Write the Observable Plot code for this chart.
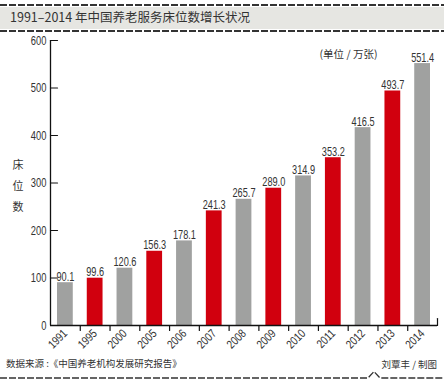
<!DOCTYPE html>
<html>
<head>
<meta charset="utf-8">
<script src="https://cdn.jsdelivr.net/npm/d3@7"></script>
<script src="https://cdn.jsdelivr.net/npm/@observablehq/plot@0.6"></script>
<style>
  html, body { margin: 0; padding: 0; background: #fff; }
  #root { position: relative; width: 444px; height: 385px; overflow: hidden; background: #fff; }
  .dash { position: absolute; left: 0; width: 444px; height: 1.5px;
          background: repeating-linear-gradient(to right, #333 0 7px, transparent 7px 9px); }
  #titlebg { position: absolute; left: 0; top: 7px; width: 444px; height: 22px; background: #e6e6e2; }
  #title { position: absolute; left: 10px; top: 7px; height: 22px; line-height: 22px;
           font: 12.5px "Noto Sans CJK SC", sans-serif; color: #333; white-space: nowrap; }
  #chart { position: absolute; left: 0; top: 32px; }
  #source { position: absolute; left: 6px; top: 356px; font: 9.5px "Noto Sans CJK SC", sans-serif; color: #333; white-space: nowrap; }
  #author { position: absolute; right: 7px; top: 357px; font: 9.5px "Noto Sans CJK SC", sans-serif; color: #333; white-space: nowrap; }
  #bottomline { position: absolute; left: 0; top: 368px; }
</style>
</head>
<body>
<div id="root">
  <div class="dash" style="top:4px"></div>
  <div id="titlebg"></div>
  <div id="title">1991–2014 年中国养老服务床位数增长状况</div>
  <div class="dash" style="top:30px"></div>
  <div id="chart"></div>
  <div id="source">数据来源 :《中国养老机构发展研究报告》</div>
  <div id="author">刘覃丰 / 制图</div>
  <svg id="bottomline" width="444" height="14">
    <path d="M0,10 H368 L374,3.5 L380,10 H444" fill="none" stroke="#333" stroke-width="1.3" stroke-dasharray="7 2"/>
  </svg>
</div>
<script>
const years = ["1991","1995","2000","2005","2006","2007","2008","2009","2010","2011","2012","2013","2014"];
const values = [90.1, 99.6, 120.6, 156.3, 178.1, 241.3, 265.7, 289.0, 314.9, 353.2, 416.5, 493.7, 551.4];
const highlighted = ["1995","2005","2007","2009","2011","2013"];
const yTicks = [0, 100, 200, 300, 400, 500, 600];
const yLabel = "床\n位\n数";
const unitLabel = "(单位 / 万张)";

const data = years.map((year, i) => ({year, value: values[i], hl: highlighted.includes(year)}));

const W = 444, H = 322, ML = 50, MR = 7, MT = 8, MB = 29;
const step = (W - ML - MR) / years.length;
const RED = "#d1000e", GRAY = "#a0a1a0", INK = "#333";
const numFont = "'Liberation Sans', Arial, sans-serif";
const tickShape = {draw(ctx, l) { ctx.moveTo(0, 0); ctx.lineTo(0, -l); }};

const chart = Plot.plot({
  width: W, height: H,
  marginLeft: ML, marginRight: MR, marginTop: MT, marginBottom: MB,
  style: {fontFamily: numFont, color: INK, background: "transparent"},
  x: {type: "band", domain: years, paddingInner: 0.47, paddingOuter: 0.235, round: false, axis: null, label: null},
  y: {domain: [0, 600], axis: null, label: null},
  marks: [
    Plot.barY(data, {x: "year", y: "value", fill: d => d.hl ? RED : GRAY}),
    Plot.text(data, {x: "year", y: "value", text: d => d.value.toFixed(1), dy: -2, lineAnchor: "bottom",
      fontSize: 13.5, fill: INK, fontFamily: numFont, className: "vlab"}),
    Plot.ruleY([0], {stroke: "#111", strokeWidth: 1.3}),
    Plot.ruleX([years[0]], {dx: -step / 2, stroke: "#111", strokeWidth: 1.3}),
    Plot.axisY({ticks: yTicks, tickSize: 0, tickPadding: 4, fontSize: 13, color: INK, fontFamily: numFont,
      label: null, className: "ylab"}),
    Plot.vector(yTicks, {y: d => d, frameAnchor: "left", rotate: 90, length: 7, anchor: "start",
      shape: tickShape, stroke: "#111", strokeWidth: 1.2}),
    Plot.vector(years.slice(0, -1), {x: d => d, frameAnchor: "bottom", rotate: 180, length: 5, anchor: "start",
      dx: step / 2, shape: tickShape, stroke: "#111", strokeWidth: 1.2}),
    Plot.vector(years.slice(-1), {x: d => d, frameAnchor: "bottom", rotate: 0, length: 7, anchor: "start",
      dx: step / 2, shape: tickShape, stroke: "#111", strokeWidth: 1.2}),
    Plot.axisX({tickSize: 0, tickPadding: 6, tickRotate: -45, fontSize: 12, color: INK, fontFamily: numFont,
      label: null, className: "xlab"}),
    Plot.text([yLabel], {frameAnchor: "left", dx: -38, fontSize: 11, lineHeight: 1.9,
      fontFamily: "'Noto Sans CJK SC', sans-serif", fill: INK}),
    Plot.text([unitLabel], {frameAnchor: "top-right", dx: -89, dy: 10, textAnchor: "middle", fontSize: 10.5,
      fontFamily: "'Noto Sans CJK SC', sans-serif", fill: INK})
  ]
});
document.getElementById("chart").appendChild(chart);

// condense the numeric labels (the reference uses a narrow face)
function condense(selector, factor) {
  chart.querySelectorAll(selector).forEach(t => {
    const len = t.getComputedTextLength();
    if (len > 0) {
      t.setAttribute("textLength", (len * factor).toFixed(2));
      t.setAttribute("lengthAdjust", "spacingAndGlyphs");
    }
  });
}
condense(".vlab text", 0.68);
condense(".ylab text", 0.72);
condense(".xlab text", 0.8);
</script>
</body>
</html>
